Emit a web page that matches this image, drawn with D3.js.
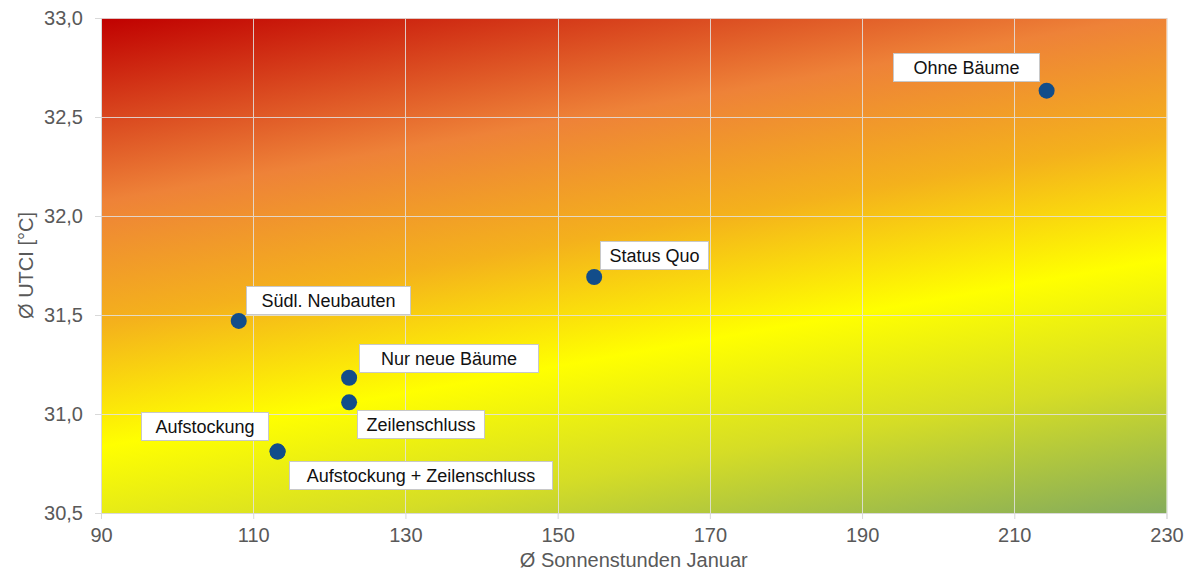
<!DOCTYPE html>
<html>
<head>
<meta charset="utf-8">
<script src="https://cdn.jsdelivr.net/npm/d3@7"></script>
<style>
  html, body { margin: 0; padding: 0; background: #fff; }
  svg { display: block; font-family: Arial, "Liberation Sans", sans-serif; }
</style>
</head>
<body>
<svg id="chart" width="1190" height="573"></svg>
<script>
// ---- data ----
const scenarios = ["Ohne Bäume", "Status Quo", "Südl. Neubauten", "Nur neue Bäume", "Zeilenschluss", "Aufstockung", "Aufstockung + Zeilenschluss"];
const sunHours  = [214.25, 154.8, 108.1, 122.6, 122.6, 113.2, 113.2];
const utci      = [32.633, 31.692, 31.470, 31.183, 31.059, 30.810, 30.810];
const xTicks = [90, 110, 130, 150, 170, 190, 210, 230];
const yTicks = [30.5, 31.0, 31.5, 32.0, 32.5, 33.0];
const xTitle = "Ø Sonnenstunden Januar";
const yTitle = "Ø UTCI [°C]";

// ---- label layout (pixel offsets of the label box from the point, box width) ----
const labelDx = [-154, 6, 7, 10, 8, -137, 11];
const labelDy = [-38, -36, -35, -34, 8, -40, 9];
const labelW  = [146, 108, 164, 179, 127, 127, 263];
const labelH = 28;

(function () {
const svg = d3.select("#chart");
const pL = 101, pR = 1166.5, pT = 18, pB = 513;

const x = d3.scaleLinear().domain([90, 230]).range([pL, pR]);
const y = d3.scaleLinear().domain([30.5, 33.0]).range([pB, pT]);

// background gradient (diagonal, ~10deg off vertical)
const ang = 10 * Math.PI / 180;
const len = 670;
const defs = svg.append("defs");
const grad = defs.append("linearGradient")
  .attr("id", "bg").attr("gradientUnits", "userSpaceOnUse")
  .attr("x1", pL).attr("y1", pT)
  .attr("x2", pL + Math.sin(ang) * len).attr("y2", pT + Math.cos(ang) * len);
[[0, "#c00000"], [0.27, "#ee8238"], [0.45, "#f4b11c"], [0.63, "#ffff00"], [0.8, "#d5dd26"], [1, "#86ad5a"]]
  .forEach(([o, c]) => grad.append("stop").attr("offset", o).attr("stop-color", c));

svg.append("rect")
  .attr("x", pL).attr("y", pT)
  .attr("width", pR - pL).attr("height", pB - pT)
  .attr("fill", "url(#bg)");

// grid lines
const grid = svg.append("g").attr("stroke", "#e3e3e3").attr("stroke-width", 1).attr("opacity", 0.85);
grid.selectAll("line.v").data(xTicks).join("line")
  .attr("x1", d => Math.round(x(d)) + 0.5).attr("x2", d => Math.round(x(d)) + 0.5)
  .attr("y1", pT).attr("y2", pB);
grid.selectAll("line.h").data(yTicks).join("line")
  .attr("y1", d => Math.round(y(d)) + 0.5).attr("y2", d => Math.round(y(d)) + 0.5)
  .attr("x1", pL).attr("x2", pR);

const fmt = d3.format(".1f");
const tickFmt = d => fmt(d).replace(".", ",");

// axes
const xAxis = svg.append("g").attr("transform", `translate(0,${pB})`)
  .call(d3.axisBottom(x).tickValues(xTicks).tickSize(6).tickPadding(9).tickFormat(d3.format("d")));
const yAxis = svg.append("g").attr("transform", `translate(${pL},0)`)
  .call(d3.axisLeft(y).tickValues(yTicks).tickSize(6).tickPadding(12).tickFormat(tickFmt));
[xAxis, yAxis].forEach(a => {
  a.select(".domain").attr("stroke", "#d9d9d9");
  a.selectAll(".tick line").attr("stroke", "#d9d9d9");
  a.selectAll(".tick text").attr("fill", "#595959").style("font-size", "20px")
    .style("font-family", "Arial, 'Liberation Sans', sans-serif");
});
xAxis.selectAll(".tick text").attr("dy", "0.71em");

// axis titles
svg.append("text").attr("x", (pL + pR) / 2).attr("y", 567)
  .attr("text-anchor", "middle").attr("fill", "#595959").style("font-size", "20px")
  .text(xTitle);
svg.append("text").attr("transform", `translate(33,${(pT + pB) / 2}) rotate(-90)`)
  .attr("text-anchor", "middle").attr("fill", "#595959").style("font-size", "20px")
  .text(yTitle);

// points
svg.append("g").selectAll("circle").data(scenarios).join("circle")
  .attr("cx", (d, i) => x(sunHours[i])).attr("cy", (d, i) => y(utci[i]))
  .attr("r", 8).attr("fill", "#124d8a");

// labels
const lab = svg.append("g").selectAll("g").data(scenarios).join("g")
  .attr("transform", (d, i) => `translate(${Math.round(x(sunHours[i]) + labelDx[i])},${Math.round(y(utci[i]) + labelDy[i])})`);
lab.append("rect")
  .attr("x", 0.5).attr("y", 0.5)
  .attr("width", (d, i) => labelW[i]).attr("height", labelH)
  .attr("fill", "#ffffff").attr("stroke", "#c8c8c8").attr("stroke-width", 1);
lab.append("text")
  .attr("x", (d, i) => labelW[i] / 2 + 0.5).attr("y", labelH / 2 + 0.5).attr("dy", "0.35em")
  .attr("text-anchor", "middle").attr("fill", "#111").style("font-size", "18px")
  .text(d => d);
})();
</script>
</body>
</html>
